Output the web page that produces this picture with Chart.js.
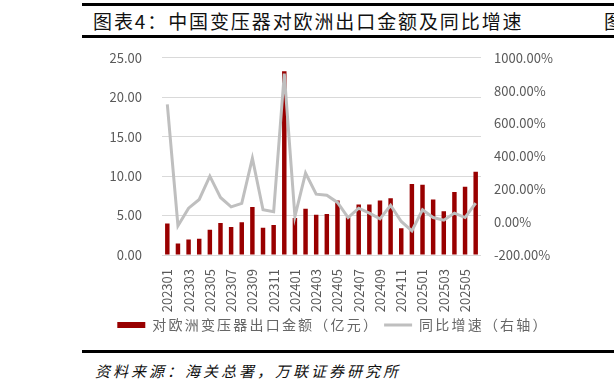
<!DOCTYPE html>
<html>
<head>
<meta charset="utf-8">
<script src="https://cdn.jsdelivr.net/npm/chart.js@4"></script>
<style>
  html, body { margin: 0; padding: 0; background: #fff; }
  body { width: 614px; height: 389px; position: relative; overflow: hidden; font-family: "Noto Sans CJK SC", sans-serif; }
  .rule { position: absolute; left: 82px; right: 0; height: 3px; background: #000; }
  #title { position: absolute; left: 93px; top: 7px; font-size: 19px; color: #111; letter-spacing: 1.9px; white-space: nowrap; }
  #peek { position: absolute; left: 604px; top: 7px; font-size: 19px; color: #111; }
  #source { position: absolute; left: 95px; top: 360px; font-size: 15px; font-style: italic; color: #111; letter-spacing: 3px; white-space: nowrap; }
  #wrap { position: absolute; left: 0; top: 30px; width: 614px; height: 312px; }
</style>
</head>
<body>
<div class="rule" style="top:3px"></div>
<div id="title">图表4：中国变压器对欧洲出口金额及同比增速</div>
<div id="peek">图</div>
<div class="rule" style="top:35px"></div>
<div id="wrap"><canvas id="chart" width="614" height="312"></canvas></div>
<div class="rule" style="top:350px"></div>
<div id="source">资料来源：海关总署，万联证券研究所</div>

<script>
// months 2023-01 .. 2025-06
const months = ['202301','202302','202303','202304','202305','202306','202307','202308','202309','202310','202311','202312',
                '202401','202402','202403','202404','202405','202406','202407','202408','202409','202410','202411','202412',
                '202501','202502','202503','202504','202505','202506'];

// export value to Europe, 100 million yuan
const exportValue = [4.0, 1.45, 1.95, 2.05, 3.2, 4.05, 3.55, 4.15, 6.1, 3.45, 3.8, 23.3,
                     4.7, 5.85, 5.1, 5.2, 6.9, 4.8, 6.4, 6.4, 6.9, 7.2, 3.4, 9.0,
                     8.9, 7.05, 5.55, 8.0, 8.65, 10.55];

// year-on-year growth, %
const yoyGrowth = [717, -22, 85, 138, 280, 150, 93, 114, 389, 75, 63, 904,
                   34, 298, 170, 164, 120, 28, 85, 55, 20, 103, 4, -53,
                   75, 28, 12, 55, 28, 116];

const barLabel = '对欧洲变压器出口金额（亿元）';
const lineLabel = '同比增速（右轴）';

const textGrey = '#595959';
const tickFont = { family: '"Noto Sans CJK SC", sans-serif', size: 13 };

// legend: wider character spacing, and sit a bit right of centre like the original
const legendTweaks = {
    id: 'legendTweaks',
    beforeLayout(chart) {
        const lg = chart.legend;
        if (!lg || lg._spaced) return;
        lg._spaced = true;
        ['fit', 'draw'].forEach(fn => {
            const orig = lg[fn].bind(lg);
            lg[fn] = function(...args) {
                chart.ctx.save();
                chart.ctx.letterSpacing = '2.2px';
                const r = orig(...args);
                chart.ctx.restore();
                return r;
            };
        });
    },
    afterLayout(chart) {
        chart.legend.left += 26;
        chart.legend.right += 26;
    }
};

const ctx = document.getElementById('chart').getContext('2d');
new Chart(ctx, {
    type: 'bar',
    data: {
        labels: months,
        datasets: [{
            type: 'bar',
            label: barLabel,
            data: exportValue,
            backgroundColor: '#990000',
            categoryPercentage: 1,
            barPercentage: 0.42,
            yAxisID: 'y',
            order: 2
        }, {
            type: 'line',
            label: lineLabel,
            data: yoyGrowth,
            borderColor: '#bfbfbf',
            backgroundColor: '#bfbfbf',
            borderWidth: 3,
            pointRadius: 0,
            tension: 0,
            yAxisID: 'y1',
            order: 1
        }]
    },
    plugins: [legendTweaks],
    options: {
        responsive: false,
        animation: false,
        layout: { padding: { top: 9, left: 0, right: 0, bottom: 0 } },
        plugins: {
            tooltip: { enabled: false },
            legend: {
                position: 'bottom',
                labels: {
                    usePointStyle: true,
                    pointStyleWidth: 28,
                    boxHeight: 6,
                    padding: 5,
                    color: '#666666',
                    font: { family: '"Noto Sans CJK SC", sans-serif', size: 14 },
                    generateLabels: function(chart) {
                        const items = Chart.defaults.plugins.legend.labels.generateLabels(chart);
                        items.sort((a, b) => a.datasetIndex - b.datasetIndex);
                        items.forEach(it => {
                            it.pointStyle = it.datasetIndex === 0 ? 'rect' : 'line';
                            it.lineWidth = it.datasetIndex === 0 ? 0 : 3;
                            it.strokeStyle = it.datasetIndex === 0 ? '#990000' : '#bfbfbf';
                        });
                        return items;
                    }
                }
            }
        },
        scales: {
            x: {
                grid: { display: false },
                border: { display: false },
                ticks: {
                    autoSkip: false,
                    minRotation: 90,
                    maxRotation: 90,
                    padding: 6,
                    color: textGrey,
                    font: tickFont,
                    callback: function(v, i) { return i % 2 === 0 ? months[i] : ''; }
                },
                afterFit: function(scale) { scale.height = 58; }
            },
            y: {
                position: 'left',
                min: 0,
                max: 25,
                ticks: {
                    stepSize: 5,
                    padding: 20,
                    color: textGrey,
                    font: tickFont,
                    callback: v => v.toFixed(2)
                },
                grid: { color: '#d9d9d9', drawTicks: false },
                border: { display: false },
                afterFit: function(scale) { scale.width = 162; }
            },
            y1: {
                position: 'right',
                min: -200,
                max: 1000,
                ticks: {
                    stepSize: 200,
                    padding: 13,
                    color: textGrey,
                    font: tickFont,
                    callback: v => v.toFixed(2) + '%'
                },
                grid: { display: false, drawTicks: false },
                border: { display: false },
                afterFit: function(scale) { scale.width = 133; }
            }
        }
    }
});
</script>
</body>
</html>
